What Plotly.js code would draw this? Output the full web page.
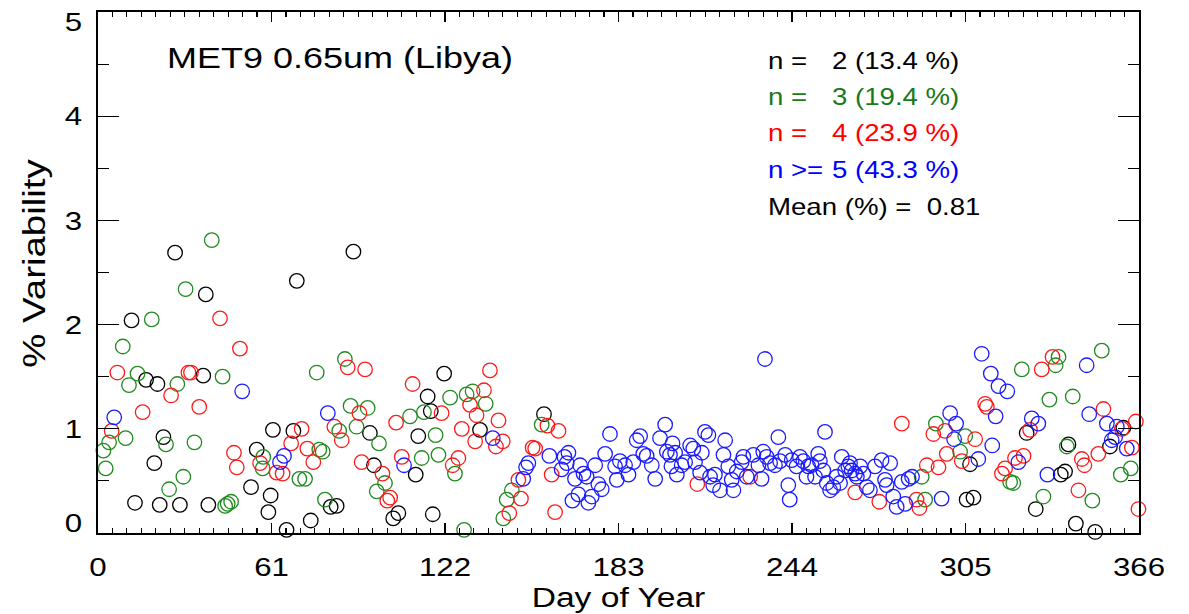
<!DOCTYPE html>
<html>
<head>
<meta charset="utf-8">
<script src="https://cdn.plot.ly/plotly-3.0.1.min.js"></script>
<style>
  html, body { margin: 0; padding: 0; background: #fff; }
  #chart { width: 1189px; height: 614px; }
</style>
</head>
<body>
<div id="chart"></div>
<script>
// Daily % variability, grouped by number of samples n
const blackDays = [11.8,13.0,16.9,19.8,20.9,21.7,23.0,27.1,28.8,37.0,37.9,38.8,53.8,55.8,59.9,60.7,61.5,66.3,68.7,69.9,74.8,81.8,83.9,89.8,95.6,97.0,103.8,105.6,111.7,112.6,115.9,117.0,117.7,121.7,134.3,156.8,305.4,306.6,307.8,326.5,329.7,338.5,340.0,341.2,343.8,350.6,355.8,360.5];
const blackVals = [2.04,0.29,1.47,0.67,1.43,0.27,0.92,2.69,0.27,1.51,2.29,0.27,0.44,0.80,0.20,0.36,0.99,0.03,0.98,2.42,0.12,0.25,0.26,2.70,0.96,0.65,0.14,0.19,0.56,0.93,1.31,1.17,0.18,1.53,0.99,1.14,0.32,0.66,0.34,0.96,0.23,0.56,0.59,0.85,0.09,0.01,0.83,1.01];

const greenDays = [1.9,2.7,3.9,8.7,9.7,10.9,13.9,18.9,23.9,25.0,27.9,30.0,30.8,33.9,40.0,43.8,44.7,45.6,46.8,57.9,58.1,70.8,72.8,76.9,77.8,79.0,79.8,84.8,86.8,88.8,90.9,94.8,98.0,98.8,100.9,109.7,113.8,114.6,118.7,119.7,123.8,125.5,128.7,129.6,131.7,136.3,142.5,143.7,145.5,156.0,289.6,290.8,294.6,303.1,304.9,320.7,321.8,324.8,332.4,334.5,336.7,337.7,340.6,342.7,349.6,352.9,359.6,363.1];
const greenVals = [0.79,0.62,0.87,1.79,0.91,1.42,1.53,2.05,0.85,0.42,1.43,0.54,2.34,0.87,2.81,1.50,0.26,0.28,0.30,0.62,0.73,0.52,0.52,1.54,0.80,0.78,0.32,0.98,1.67,1.22,1.02,1.20,0.40,0.86,0.48,1.12,0.72,1.16,0.94,0.75,1.30,0.57,0.03,1.33,1.36,1.24,0.14,0.32,0.41,1.04,0.54,0.32,1.05,0.78,0.93,0.49,0.48,1.57,0.35,1.28,1.61,1.69,0.83,1.31,0.31,1.75,0.56,0.62];

const redDays = [4.8,6.8,15.7,25.7,31.8,32.7,35.6,42.9,47.8,48.8,49.9,57.0,62.8,64.9,67.9,71.6,73.6,75.7,83.1,85.7,87.8,91.9,92.7,93.9,100.0,101.7,102.7,104.8,106.8,110.6,120.8,124.7,126.7,127.9,130.8,132.6,133.1,135.7,137.8,139.9,140.8,142.3,144.6,147.8,148.7,152.8,153.7,158.0,159.5,160.7,161.9,210.7,229.3,266.2,274.7,282.6,287.8,288.8,291.4,293.7,295.5,297.8,298.4,303.7,308.4,311.9,312.5,317.8,318.9,322.4,325.4,327.7,331.8,335.6,344.7,345.9,346.8,351.7,353.5,360.0,363.5,364.9,365.8];
const redVals = [0.98,1.54,1.16,1.32,1.54,1.54,1.21,2.06,0.77,0.63,1.77,0.67,0.58,0.57,0.86,1.00,0.81,0.68,1.02,0.89,1.59,1.15,0.68,1.57,0.57,0.31,0.34,1.06,0.73,1.43,1.15,0.65,0.72,1.00,1.23,0.88,1.13,1.37,1.56,0.83,1.08,0.88,0.19,0.51,0.33,0.82,0.81,1.03,0.56,0.20,0.98,0.47,0.54,0.39,0.30,1.05,0.32,0.24,0.65,0.95,0.63,0.98,0.76,0.69,0.90,1.24,1.21,0.57,0.62,0.72,0.74,0.99,1.57,1.69,0.41,0.71,0.65,0.76,1.19,1.00,0.82,1.07,0.23];

const blueDays = [5.7,50.7,64.0,65.4,80.8,107.6,138.8,149.5,150.5,151.3,158.7,163.0,164.0,164.8,165.4,166.8,167.7,168.9,169.5,170.7,171.8,172.4,173.6,174.8,175.9,177.1,178.3,180.0,181.8,182.4,183.5,185.3,186.5,188.2,189.4,190.6,191.7,192.9,194.7,195.9,197.6,199.4,200.0,201.1,201.6,202.0,202.9,203.5,205.2,206.4,208.2,209.3,209.9,211.7,212.3,213.4,214.6,215.2,216.3,216.9,218.7,219.9,220.5,221.6,222.8,223.4,224.6,226.3,226.9,228.1,230.4,232.2,233.3,233.9,234.5,235.1,236.3,238.0,239.2,239.8,241.6,242.7,243.2,243.9,245.6,246.8,248.0,249.1,249.7,250.9,252.1,253.2,253.8,255.0,255.6,256.2,257.4,258.5,259.7,260.9,261.5,262.7,263.8,264.4,265.0,266.2,266.8,268.0,269.1,270.3,271.4,273.2,275.5,276.7,277.3,278.5,279.6,280.8,282.6,283.8,285.0,286.2,296.6,299.6,301.0,301.7,309.5,310.7,313.9,314.4,315.6,316.6,319.7,323.6,328.3,330.6,333.8,347.6,348.5,354.7,356.4,357.6,358.2,361.7];
const blueVals = [1.11,1.36,0.68,0.74,1.15,0.65,0.91,0.52,0.63,0.67,0.74,0.61,0.73,0.67,0.77,0.31,0.52,0.37,0.65,0.57,0.54,0.29,0.35,0.65,0.47,0.42,0.76,0.95,0.64,0.51,0.69,0.65,0.56,0.68,0.89,0.93,0.76,0.74,0.65,0.52,0.91,1.04,0.78,0.75,0.64,0.86,0.77,0.56,0.65,0.68,0.84,0.81,0.68,0.58,0.77,0.97,0.94,0.54,0.46,0.56,0.41,0.75,0.89,0.64,0.51,0.41,0.59,0.68,0.73,0.54,0.75,0.65,0.52,0.78,1.67,0.73,0.67,0.65,0.92,0.69,0.75,0.46,0.32,0.70,0.64,0.73,0.69,0.54,0.64,0.65,0.54,0.76,0.69,0.60,0.97,0.48,0.41,0.44,0.54,0.48,0.73,0.60,0.64,0.67,0.60,0.57,0.54,0.64,0.57,0.44,0.41,0.64,0.70,0.51,0.46,0.67,0.35,0.25,0.49,0.28,0.52,0.54,0.33,1.15,0.90,1.05,0.71,1.72,1.53,0.84,1.12,1.41,1.36,0.68,1.10,1.05,0.56,1.61,1.14,1.05,0.89,0.92,1.02,0.81];

const xTicks = [0, 61, 122, 183, 244, 305, 366];
const yTicks = [0, 1, 2, 3, 4, 5];

const chartTitle = 'MET9 0.65um (Libya)';
const xTitle = 'Day of Year';
const yTitle = '% Variability';
const statLabels = ['n =', 'n =', 'n =', 'n >=', 'Mean (%) =\u00A0\u00A00.81'];
const statValues = ['2 (13.4 %)', '3 (19.4 %)', '4 (23.9 %)', '5 (43.3 %)', ''];

const COLORS = { black: '#000000', green: '#1f8a1f', red: '#ff1a1a', blue: '#1a1aff' };
const TEXT_COLORS = ['#000000', '#1a7a1a', '#ff0000', '#0000ff', '#000000'];
const FONT = 'Liberation Sans, Arial, Helvetica, sans-serif';
const WIDE = 1.2;   // horizontal widening applied to all lettering

function series(x, y, color) {
  return {
    type: 'scatter', mode: 'markers', x: x, y: y,
    cliponaxis: false, hoverinfo: 'x+y',
    marker: { symbol: 'circle-open', size: 14.5, color: color, line: { width: 1.3, color: color } }
  };
}

const data = [
  series(blackDays, blackVals, COLORS.black),
  series(greenDays, greenVals, COLORS.green),
  series(redDays, redVals, COLORS.red),
  series(blueDays, blueVals, COLORS.blue)
];

// Plot area in pixels: left 98, right 1139, top 12, bottom 533
const rowY = [0.9065, 0.8374, 0.7672, 0.6967, 0.6263];
const annotations = [{
  text: chartTitle, xref: 'paper', yref: 'paper', x: 0.064, y: 0.912,
  xanchor: 'left', yanchor: 'middle', showarrow: false,
  font: { family: FONT, size: 30, color: '#000' }
}];
statLabels.forEach((lbl, i) => {
  annotations.push({
    text: lbl, xref: 'paper', yref: 'paper', x: 0.6417, y: rowY[i],
    xanchor: 'left', yanchor: 'middle', showarrow: false,
    font: { family: FONT, size: 23, color: TEXT_COLORS[i] }
  });
  if (statValues[i]) {
    annotations.push({
      text: statValues[i], xref: 'paper', yref: 'paper', x: 0.7032, y: rowY[i],
      xanchor: 'left', yanchor: 'middle', showarrow: false,
      font: { family: FONT, size: 23, color: TEXT_COLORS[i] }
    });
  }
});

const layout = {
  width: 1189, height: 614,
  margin: { l: 98, r: 50, t: 12, b: 81, pad: 0 },
  paper_bgcolor: '#fff', plot_bgcolor: '#fff',
  showlegend: false,
  font: { family: FONT, color: '#000' },
  xaxis: {
    range: [0, 366], tickmode: 'array', tickvals: xTicks, ticktext: xTicks.map(String),
    ticks: 'inside', ticklen: 10, tickwidth: 1.3, tickcolor: '#000',
    minor: { dtick: 61 / 12, tick0: 0, ticks: 'inside', ticklen: 5, tickwidth: 1.1, tickcolor: '#000' },
    showline: true, linecolor: '#000', linewidth: 1.6, mirror: 'ticks',
    showgrid: false, zeroline: false, ticklabeloverflow: 'allow',
    tickfont: { family: FONT, size: 26 }, ticklabelstandoff: 10,
    title: { text: xTitle, font: { family: FONT, size: 28 }, standoff: 2 }
  },
  yaxis: {
    range: [0, 5], tickmode: 'array', tickvals: yTicks, ticktext: yTicks.map(String),
    ticks: 'inside', ticklen: 21, tickwidth: 1.3, tickcolor: '#000',
    minor: { dtick: 0.5, tick0: 0, ticks: 'inside', ticklen: 11, tickwidth: 1.1, tickcolor: '#000' },
    showline: true, linecolor: '#000', linewidth: 1.6, mirror: 'ticks',
    showgrid: false, zeroline: false, ticklabeloverflow: 'allow',
    tickfont: { family: FONT, size: 26 }, ticklabelstandoff: 9,
    title: { text: yTitle, font: { family: FONT, size: 32 }, standoff: 12 }
  },
  annotations: annotations
};

// Widen a text element horizontally (in its own frame) about a pivot on its box
function widen(el, s, mode, pre) {
  const bb = el.getBBox();
  const px = mode === 'left' ? bb.x : mode === 'right' ? bb.x + bb.width : bb.x + bb.width / 2;
  const py = bb.y + bb.height / 2;
  const prev = el.getAttribute('transform') || '';
  el.setAttribute('transform',
    (pre || '') + ' ' + prev + ` translate(${px},${py}) scale(${s},1) translate(${-px},${-py})`);
}

Plotly.newPlot('chart', data, layout, { displayModeBar: false, staticPlot: true }).then(gd => {
  gd.querySelectorAll('.xtick text').forEach(t => widen(t, WIDE, 'center'));
  gd.querySelectorAll('.ytick text').forEach(t => {
    const v = t.textContent.trim();
    const nudge = v === String(yTicks[yTicks.length - 1]) ? 'translate(0,10)'
                : v === String(yTicks[0]) ? 'translate(0,-10)' : '';
    widen(t, WIDE, 'right', nudge);
  });
  gd.querySelectorAll('.g-xtitle text').forEach(t => widen(t, WIDE, 'center'));
  gd.querySelectorAll('.g-ytitle text').forEach(t => widen(t, WIDE, 'center', 'translate(0,-9)'));
  gd.querySelectorAll('.annotation-text').forEach(t => widen(t, WIDE, 'left'));
});
</script>
</body>
</html>
